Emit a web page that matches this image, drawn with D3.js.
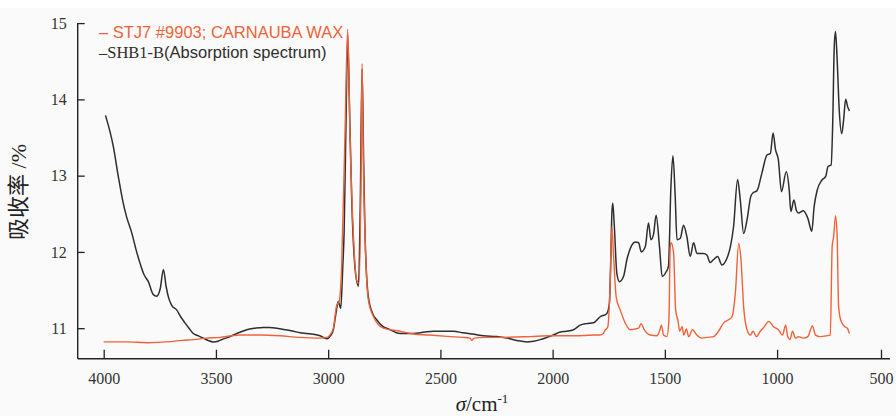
<!DOCTYPE html>
<html>
<head>
<meta charset="utf-8">
<script src="https://cdn.jsdelivr.net/npm/d3@7"></script>
<style>
  body { margin: 0; background: #fff; }
  svg { display: block; }
</style>
</head>
<body>
<svg id="chart" width="896" height="416"></svg>
<script>
// tick values
const xTicks = [4000, 3500, 3000, 2500, 2000, 1500, 1000, 500];
const yTicks = [11, 12, 13, 14, 15];

// SHB1-B absorption spectrum (black)
const blackWn = [3992, 3957, 3935, 3913, 3898, 3875, 3856, 3838, 3820, 3801, 3779, 3764, 3748, 3734, 3722, 3712,
  3697, 3675, 3655, 3638, 3620, 3601, 3578, 3556, 3535, 3512, 3490, 3467, 3445, 3422, 3390, 3363, 3325, 3289,
  3260, 3229, 3190, 3155, 3125, 3095, 3066, 3036, 3006, 2990, 2977, 2965, 2955, 2944, 2935, 2929, 2920, 2913,
  2905, 2895, 2878, 2865, 2857, 2849, 2842, 2836, 2821, 2800, 2784, 2760, 2724, 2680, 2620, 2570, 2531, 2490,
  2442, 2400, 2350, 2308, 2250, 2204, 2160, 2115, 2085, 2056, 2025, 1997, 1966, 1940, 1907, 1877, 1850, 1818,
  1788, 1759, 1747, 1741, 1736, 1732, 1725, 1714, 1702, 1684, 1669, 1647, 1632, 1617, 1605, 1587, 1573, 1562,
  1550, 1539, 1524, 1512, 1494, 1484, 1473, 1464, 1454, 1446, 1431, 1417, 1402, 1387, 1372, 1357, 1328, 1313,
  1298, 1283, 1265, 1246, 1223, 1208, 1194, 1176, 1164, 1149, 1134, 1117, 1105, 1090, 1068, 1045, 1030, 1018,
  1007, 994, 979, 956, 941, 934, 919, 908, 897, 874, 852, 833, 822, 807, 785, 766, 755, 740, 732, 725, 719,
  711, 701, 689, 680, 670, 660, 652];
const blackAbs = [13.79, 13.38, 12.99, 12.64, 12.46, 12.25, 12.03, 11.85, 11.70, 11.61, 11.44, 11.42, 11.52, 11.77, 11.55, 11.41,
  11.30, 11.24, 11.14, 11.07, 11.00, 10.93, 10.90, 10.87, 10.84, 10.82, 10.83, 10.86, 10.88, 10.91, 10.95, 10.98, 11.00, 11.01,
  11.01, 11.00, 10.98, 10.96, 10.94, 10.93, 10.92, 10.90, 10.86, 10.90, 10.98, 11.20, 11.35, 11.26, 11.80, 12.25, 13.80, 14.85,
  13.90, 12.68, 11.72, 11.55, 12.60, 14.40, 13.20, 12.25, 11.41, 11.18, 11.11, 11.03, 10.98, 10.93, 10.93, 10.95, 10.96, 10.96,
  10.96, 10.94, 10.92, 10.90, 10.89, 10.87, 10.84, 10.82, 10.83, 10.85, 10.88, 10.91, 10.95, 10.96, 10.98, 11.04, 11.06, 11.07,
  11.15, 11.19, 11.33, 11.90, 12.51, 12.64, 12.33, 11.72, 11.61, 11.68, 11.90, 12.09, 12.13, 12.12, 12.00, 12.07, 12.38, 12.16,
  12.24, 12.48, 12.07, 11.68, 11.74, 11.81, 12.86, 13.26, 12.73, 12.16, 12.18, 12.35, 12.20, 11.94, 12.12, 11.98, 11.98, 11.96,
  11.86, 11.90, 11.94, 11.83, 11.92, 12.07, 12.33, 12.95, 12.68, 12.24, 12.42, 12.73, 12.78, 12.80, 13.03, 13.27, 13.29, 13.56,
  13.34, 13.21, 12.79, 13.05, 12.79, 12.53, 12.68, 12.55, 12.51, 12.54, 12.44, 12.27, 12.59, 12.81, 12.94, 12.99, 13.12, 13.14, 13.73, 14.69, 14.89,
  14.52, 13.86, 13.55, 13.73, 14.00, 13.90, 13.85];

// STJ7 #9903; carnauba wax (orange)
const waxWn = [4000, 3900, 3800, 3719, 3650, 3600, 3541, 3480, 3430, 3392, 3300, 3214, 3130, 3036, 3006, 2990,
  2977, 2962, 2951, 2940, 2925, 2913, 2903, 2888, 2873, 2862, 2853, 2849, 2843, 2831, 2821, 2798, 2754, 2680,
  2635, 2550, 2456, 2400, 2368, 2360, 2350, 2300, 2234, 2100, 2012, 1900, 1818, 1790, 1774, 1767, 1754, 1744,
  1736, 1729, 1717, 1699, 1677, 1655, 1632, 1617, 1606, 1592, 1565, 1535, 1524, 1515, 1506, 1491, 1482, 1476,
  1472, 1461, 1452, 1441, 1434, 1423, 1416, 1404, 1394, 1377, 1357, 1335, 1313, 1283, 1261, 1238, 1216, 1201,
  1186, 1171, 1161, 1149, 1134, 1119, 1107, 1092, 1075, 1057, 1037, 1016, 994, 974, 959, 949, 938, 926, 911,
  897, 874, 852, 830, 815, 793, 762, 744, 735, 728, 719, 711, 704, 692, 674, 662, 652];
const waxAbs = [10.82, 10.82, 10.81, 10.82, 10.84, 10.85, 10.87, 10.88, 10.90, 10.91, 10.91, 10.90, 10.88, 10.87, 10.88, 10.92,
  11.00, 11.30, 11.35, 11.81, 13.56, 14.92, 13.56, 12.25, 11.63, 11.59, 13.12, 14.47, 13.12, 11.81, 11.37, 11.15, 11.00, 10.96,
  10.93, 10.91, 10.89, 10.88, 10.87, 10.84, 10.87, 10.88, 10.88, 10.89, 10.90, 10.90, 10.91, 10.91, 10.93, 10.97, 11.02, 11.55,
  12.33, 11.98, 11.41, 11.24, 11.07, 10.98, 10.99, 11.00, 11.06, 10.98, 10.91, 10.90, 10.96, 11.04, 10.91, 10.89, 11.11, 12.07,
  12.12, 11.98, 11.24, 11.09, 10.96, 11.02, 10.91, 10.99, 10.89, 10.98, 10.91, 10.87, 10.88, 10.89, 10.96, 11.07, 11.11, 11.15,
  11.46, 12.11, 11.90, 11.28, 10.98, 10.91, 10.96, 10.89, 10.96, 11.02, 11.09, 11.02, 10.98, 10.91, 11.04, 10.89, 10.85, 10.96, 10.87,
  10.89, 10.87, 10.89, 11.03, 10.91, 10.89, 10.90, 10.91, 12.07, 12.20, 12.47, 12.20, 11.28, 11.09, 11.02, 11.00, 10.93];

const SERIF = '"Liberation Serif"';
const SANS = '"Liberation Sans"';

const svg = d3.select('#chart');

// light grey paper like the scanned figure
svg.append('rect').attr('x', 0).attr('y', 8).attr('width', 896).attr('height', 408).attr('fill', '#fafafa');

const x = d3.scaleLinear()
    .domain([4000, 1000, 500])
    .range([103.7, 777.1, 881]);

const y = d3.scaleLinear()
    .domain([10.6, 15])
    .range([358.7, 23.1]);

const axisColor = '#222';

// x axis (ticks point inward)
const gx = svg.append('g')
    .attr('transform', 'translate(0,358.7)')
    .call(d3.axisBottom(x).tickValues(xTicks).tickFormat(d3.format('d'))
        .tickSizeInner(-9).tickSizeOuter(0).tickPadding(14));
gx.attr('font-family', null).attr('font-size', null);
gx.select('.domain').remove();
gx.selectAll('line').attr('stroke', axisColor).attr('stroke-width', 1.3);
gx.selectAll('text').style('font-family', SERIF).style('font-size', '16px').attr('fill', '#333');

svg.append('line').attr('x1', 77.7).attr('x2', 890).attr('y1', 358.7).attr('y2', 358.7)
    .attr('stroke', axisColor).attr('stroke-width', 1.4);

// y axis
const gy = svg.append('g')
    .attr('transform', 'translate(77.7,0)')
    .call(d3.axisLeft(y).tickValues(yTicks).tickFormat(d3.format('d'))
        .tickSizeInner(-7).tickSizeOuter(0).tickPadding(11));
gy.attr('font-family', null).attr('font-size', null);
gy.select('.domain').remove();
gy.selectAll('line').attr('stroke', axisColor).attr('stroke-width', 1.3);
gy.selectAll('text').style('font-family', SERIF).style('font-size', '16px').attr('fill', '#333');

svg.append('line').attr('x1', 77.7).attr('x2', 77.7).attr('y1', y(15)).attr('y2', 358.7)
    .attr('stroke', axisColor).attr('stroke-width', 1.4);

// spectra
const line = d3.line()
    .x(d => x(d[0]))
    .y(d => y(d[1]))
    .curve(d3.curveMonotoneX);

svg.append('path')
    .datum(d3.zip(blackWn, blackAbs))
    .attr('d', line)
    .attr('fill', 'none')
    .attr('stroke', '#2e2e2e')
    .attr('stroke-width', 1.5)
    .attr('stroke-linejoin', 'round');

svg.append('path')
    .datum(d3.zip(waxWn, waxAbs))
    .attr('d', line)
    .attr('fill', 'none')
    .attr('stroke', '#f0623a')
    .attr('stroke-width', 1.4)
    .attr('stroke-linejoin', 'round');

// legend
svg.append('text')
    .attr('x', 99).attr('y', 38)
    .style('font-family', SANS)
    .style('font-size', '16.5px')
    .attr('fill', '#f0623a')
    .text('– STJ7 #9903; CARNAUBA WAX');

const leg2 = svg.append('text')
    .attr('x', 99).attr('y', 58)
    .style('font-size', '16.5px')
    .attr('fill', '#2e2e2e');
leg2.append('tspan').style('font-family', SERIF).text('–SHB1-B');
leg2.append('tspan').style('font-family', SANS).text('(Absorption spectrum)');

// axis titles
const xt = svg.append('text')
    .attr('x', 482).attr('y', 411)
    .attr('text-anchor', 'middle')
    .style('font-family', SERIF)
    .style('font-size', '21px')
    .attr('fill', '#222');
xt.append('tspan').style('font-style', 'italic').text('σ');
xt.append('tspan').text('/cm');
xt.append('tspan').style('font-size', '13px').attr('dy', -8).text('-1');

const yt = svg.append('text')
    .attr('transform', 'translate(26,192) rotate(-90)')
    .attr('text-anchor', 'middle')
    .style('font-size', '22px')
    .attr('fill', '#222');
yt.append('tspan').style('font-family', '"Noto Sans CJK SC"').text('吸收率');
yt.append('tspan').style('font-family', SERIF).text(' /%');
</script>
</body>
</html>
